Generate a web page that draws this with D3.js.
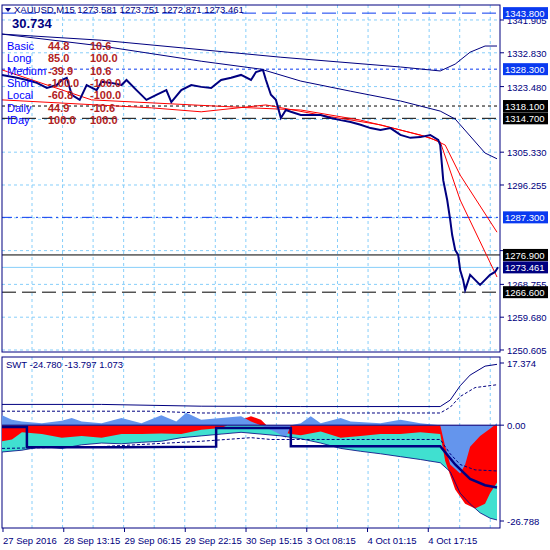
<!DOCTYPE html><html><head><meta charset="utf-8"><script src="https://cdn.jsdelivr.net/npm/d3@7"></script>
<style>body{margin:0;background:#fff}text{font-family:"Liberation Sans",Arial,sans-serif}</style></head><body><svg id="c" width="550" height="550"></svg><script>
const priceBars=[0,15,25,35,45,55,60,65,70,78,85,95,100,110,120,125,135,145,155,165,170,180,190,200,210,220,230,240,250,255,262,265,270,275,280,285,290,300,310,320,330,340,350,360,370,380,390,400,410,420,430,438,440,443,447,450,452,455,458,460,463,465,470,475,480,485,490,495,498];
const prices=[1326.7,1325.9,1325.3,1324.5,1323.1,1323.9,1325.3,1325.9,1321.2,1319.8,1323.9,1322.5,1324.8,1324.5,1323.9,1325.3,1322.5,1319.8,1321.2,1322.5,1319.2,1322.5,1323.9,1323.4,1323.1,1325.3,1325.9,1326.7,1325.3,1327.5,1328.1,1325.3,1321.2,1319.8,1314.8,1317.0,1316.5,1315.6,1315.6,1315.6,1314.8,1314.2,1313.7,1312.9,1312.0,1311.5,1312.0,1310.1,1309.3,1309.5,1310.1,1308.7,1307.3,1297.6,1292.1,1286.6,1282.4,1278.3,1276.9,1272.7,1270.0,1267.2,1271.4,1270.0,1268.6,1270.0,1271.4,1272.2,1273.5];
const red1Bars=[0,90,250,300,360,420,440,460,497], red1=[1328.1,1319.8,1317.6,1317.0,1314.2,1310.1,1308.2,1292.1,1270.8];
const red2Bars=[0,150,200,265,320,380,430,445,460,497], red2=[1319.8,1317.6,1316.5,1318.4,1315.6,1312.9,1309.3,1307.3,1299.0,1283.2];
const navyABars=[0,100,280,400,440,455,470,485,497], navyA=[1338.0,1336.3,1331.6,1328.9,1327.8,1329.7,1333.0,1334.7,1334.7];
const navyBBars=[0,100,200,260,300,350,400,440,455,470,485,497], navyB=[1338.0,1334.7,1330.5,1328.3,1325.0,1322.2,1319.5,1316.7,1314.5,1309.8,1305.1,1303.5];
const yTicks=[1341.905,1332.830,1323.480,1305.330,1296.255,1259.680,1250.605];
const hiddenTicks=[1278.100,1268.755];
const levels=[{v:1343.8,c:"#0a3af0",d:"14,6"},{v:1328.3,c:"#0a3af0",d:"3,3"},{v:1318.1,c:"#000",d:"3,3"},{v:1314.7,c:"#000",d:"14,6"},{v:1287.3,c:"#0a3af0",d:"10,4,2,4"},{v:1276.9,c:"#000",d:null},{v:1273.461,c:"#000080",d:null,lc:"#87cefa"},{v:1266.6,c:"#000",d:"14,6"}];
const infoNames=["Basic","Long","Medium","Short","Local","Daily","IDay"];
const infoA=["44.8","85.0","-39.9","-100.0","-60.8","44.9","100.0"];
const infoB=["10.6","100.0","10.6","-100.0","-100.0","-10.6","100.0"];
const timeLabels=["27 Sep 2016","28 Sep 13:15","29 Sep 06:15","29 Sep 22:15","30 Sep 15:15","3 Oct 08:15","4 Oct 01:15","4 Oct 17:15"];
const timeBars=[1,62,123,184,245,306,367,428];
const blueB=[0,10,20,40,60,70,80,100,120,140,160,175,185,200,220,240,250,260,275,285,290,300,310,320,340,350,380,400,420,440,445,450,460,465,470,480,490,497];
const blueV=[2.8,1.5,1.0,0.5,1.2,2.0,1.0,0.5,2.0,0.5,2.8,1.0,3.5,1.5,2.0,2.5,1.0,0,-2,-3.5,0,0.5,2.5,0.5,2.0,1.0,0.5,1.5,0.5,0,-6,-11,-13.5,-11,-6,-3,-1,0.5];
const redB=[0,10,20,40,60,80,100,120,140,160,180,200,220,240,250,260,270,280,290,300,320,340,360,380,400,420,440,445,455,465,475,485,490,497];
const redV=[-4.5,-4,-2,-2.5,-3.5,-3,-3.5,-2.5,-2.5,-2.3,-2.5,-1.3,-0.8,1.5,2.5,1.5,-1.2,-2,-2.5,-2.8,-1.8,-3.5,-3,-2.5,-2.5,-2,-2.5,-10,-18,-22,-23.3,-22,-19,-16];
const turqB=[0,20,40,60,80,100,120,140,160,180,200,220,240,260,280,300,320,340,360,380,400,420,440,450,460,470,480,490,497];
const turqV=[-7.5,-7,-6,-6.5,-5.5,-5,-5.2,-4.8,-4.5,-3.5,-3,-2.5,-2,-2.5,-3,-3.8,-5,-6.5,-7.3,-8,-8.8,-9.6,-10.5,-13,-19,-22,-24.5,-26,-26.5];
const upB=[0,100,200,300,440,450,460,470,485,497], upV=[5.8,5.8,5.3,5.2,5.2,7,11,14,16.5,17];
const udB=[0,150,200,440,450,460,475,497], udV=[3.9,3.9,3.4,3.4,5,8,10.5,11.3];
const ldB=[0,100,200,250,270,300,440,450,460,475,497], ldV=[-6.5,-6,-4.5,-3.5,-4,-4,-4,-8,-11,-12.5,-12.8];
const stepB=[0,25,25,120,215,215,290,290,440,455,470,485,497], stepV=[-0.5,-0.5,-6.2,-6.2,-6.0,-0.8,-0.8,-5.9,-5.9,-11,-15,-16.8,-17.4];
const subTicks=[17.374,0.00,-26.788];

const svg=d3.select("#c");
const L=2,R=500;
const x=d3.scaleLinear().domain([0,498]).range([L,R-2]);
const y=d3.scaleLinear().domain([1250.05,1346.05]).range([352,5]);
const ys=d3.scaleLinear().domain([-26.788,17.374]).range([521,363]);
const grid="#87cefa";
const vg=d3.range(32,500,30.55);
[[5,352],[357,528]].forEach(([a,b])=>vg.forEach(v=>svg.append("line").attr("x1",v).attr("x2",v).attr("y1",a).attr("y2",b).attr("stroke",grid).attr("stroke-dasharray","3,3")));
yTicks.concat(hiddenTicks,[1314.4,1287.18]).forEach(t=>svg.append("line").attr("x1",L).attr("x2",R).attr("y1",y(t)).attr("y2",y(t)).attr("stroke",grid).attr("stroke-dasharray","3,3"));
const ln=(bs,vs,sc)=>d3.line().x((d,i)=>x(bs[i])).y(d=>sc(d))(vs);
levels.forEach(l=>svg.append("line").attr("x1",L).attr("x2",R).attr("y1",y(l.v)).attr("y2",y(l.v)).attr("stroke",l.lc||l.c).attr("stroke-dasharray",l.d));
svg.append("path").attr("d",ln(navyABars,navyA,y)).attr("fill","none").attr("stroke","#000080");
svg.append("path").attr("d",ln(navyBBars,navyB,y)).attr("fill","none").attr("stroke","#000080");
svg.append("path").attr("d",ln(red1Bars,red1,y)).attr("fill","none").attr("stroke","red");
svg.append("path").attr("d",ln(red2Bars,red2,y)).attr("fill","none").attr("stroke","red");
svg.append("path").attr("d",ln(priceBars,prices,y)).attr("fill","none").attr("stroke","#000080").attr("stroke-width",2);
svg.append("rect").attr("x",L).attr("y",5).attr("width",R-L).attr("height",347).attr("fill","none").attr("stroke","#000080");
svg.append("rect").attr("x",L).attr("y",357).attr("width",R-L).attr("height",171).attr("fill","none").attr("stroke","#000080");
const fs=9.5;
yTicks.concat(hiddenTicks).forEach(t=>{svg.append("line").attr("x1",R).attr("x2",R+4).attr("y1",y(t)).attr("y2",y(t)).attr("stroke","#000080");
 svg.append("text").attr("x",R+7).attr("y",y(t)+4).attr("font-size",fs).attr("fill","#000080").text(t.toFixed(3));});
levels.forEach(l=>{svg.append("rect").attr("x",R+3).attr("y",y(l.v)-6).attr("width",45).attr("height",12).attr("fill",l.c);
 svg.append("text").attr("x",R+5).attr("y",y(l.v)+4).attr("font-size",fs).attr("fill","#fff").text(l.v.toFixed(3));});
svg.append("path").attr("d","M5,8 L11,8 L8,12 Z").attr("fill","#000080");
svg.append("text").attr("x",14).attr("y",13).attr("font-size",9.5).attr("fill","#000080").text("XAUUSD,M15  1273.581 1273.751 1272.871 1273.461");
svg.append("text").attr("x",12).attr("y",28).attr("font-size",13).attr("font-weight","bold").attr("fill","#000080").text("30.734");
infoNames.forEach((n,i)=>{const yy=50+i*12.3;
 svg.append("text").attr("x",7).attr("y",yy).attr("font-size",11).attr("fill","#0000ff").text(n);
 svg.append("text").attr("x",48).attr("y",yy).attr("font-size",11).attr("font-weight","bold").attr("fill","#b22222").text(infoA[i]);
 svg.append("text").attr("x",90).attr("y",yy).attr("font-size",11).attr("font-weight","bold").attr("fill","#b22222").text(infoB[i]);});
const ar=(bs,vs)=>d3.area().x((d,i)=>x(bs[i])).y0(ys(0)).y1(d=>ys(d))(vs);
svg.append("path").attr("d",ar(turqB,turqV)).attr("fill","#40e0d0");
svg.append("path").attr("d",ar(redB,redV)).attr("fill","#ff0000");
svg.append("path").attr("d",ar(blueB,blueV)).attr("fill","#6495ed");
svg.append("path").attr("d",ln(turqB,turqV,ys)).attr("fill","none").attr("stroke","#000080").attr("stroke-width",0.8);
svg.append("line").attr("x1",L).attr("x2",R).attr("y1",ys(0)).attr("y2",ys(0)).attr("stroke","#000080");
svg.append("path").attr("d",ln(upB,upV,ys)).attr("fill","none").attr("stroke","#000080");
svg.append("path").attr("d",ln(udB,udV,ys)).attr("fill","none").attr("stroke","#000080").attr("stroke-dasharray","3,2");
svg.append("path").attr("d",ln(ldB,ldV,ys)).attr("fill","none").attr("stroke","#000080").attr("stroke-dasharray","3,2");
svg.append("path").attr("d",ln(stepB,stepV,ys)).attr("fill","none").attr("stroke","#000080").attr("stroke-width",2.5);
svg.append("text").attr("x",6).attr("y",368).attr("font-size",9.5).attr("fill","#000080").text("SWT -24.780 -13.797 1.073");
subTicks.forEach(t=>{svg.append("line").attr("x1",R).attr("x2",R+4).attr("y1",ys(t)).attr("y2",ys(t)).attr("stroke","#000080");
 svg.append("text").attr("x",R+7).attr("y",ys(t)+4).attr("font-size",fs).attr("fill","#000080").text(t.toFixed(t===0?2:3));});
timeBars.forEach((b,i)=>{svg.append("line").attr("x1",x(b)).attr("x2",x(b)).attr("y1",528).attr("y2",532).attr("stroke","#000080");
 svg.append("text").attr("x",x(b)).attr("y",544).attr("font-size",9.5).attr("fill","#000080").text(timeLabels[i]);});
</script></body></html>
